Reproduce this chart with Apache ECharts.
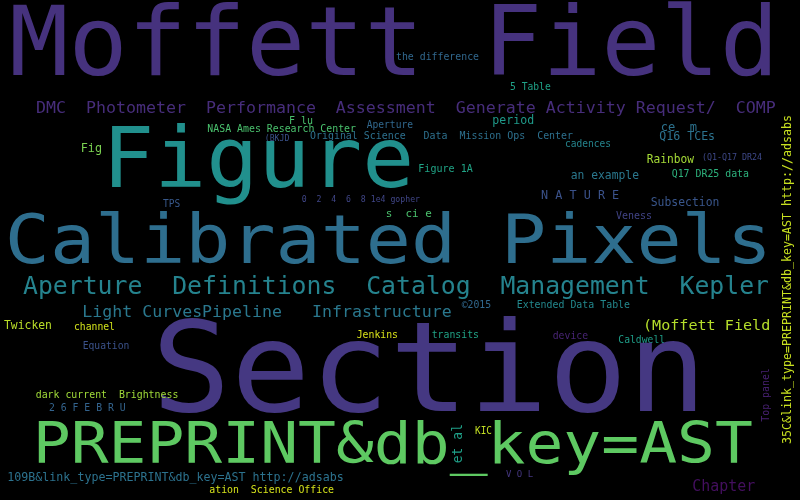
<!DOCTYPE html>
<html>
<head>
<meta charset="utf-8">
<title>Word cloud</title>
<script src="https://cdn.jsdelivr.net/npm/echarts@6/dist/echarts.min.js"></script>
<style>
  html, body { margin: 0; padding: 0; background: #000; }
  #chart { width: 800px; height: 500px; }
</style>
</head>
<body>
<div id="chart"></div>
<script>
  // words of the cloud, their weight (font px) and where the layout put them
  const words = [
    'Moffett Field',
    'DMC  Photometer  Performance  Assessment  Generate Activity Request/  COMP',
    'the difference',
    '5 Table',
    'F lu',
    'NASA Ames Research Center',
    'Aperture',
    'period',
    'ce  m',
    'Q16 TCEs',
    '(BKJD',
    'Original Science   Data  Mission Ops  Center',
    'cadences',
    'Fig',
    'Figure',
    'Figure 1A',
    'Rainbow',
    '(Q1-Q17 DR24',
    'an example',
    'Q17 DR25 data',
    'N A T U R E',
    'Subsection',
    'TPS',
    '0  2  4  6  8 1e4 gopher',
    's  ci e',
    'Veness',
    'Calibrated Pixels',
    'Aperture  Definitions  Catalog  Management  Kepler',
    'Light CurvesPipeline   Infrastructure',
    '©2015',
    'Extended Data Table',
    'Twicken',
    'channel',
    '(Moffett Field',
    'Jenkins',
    'transits',
    'device',
    'Caldwell',
    'Equation',
    'Section',
    'dark current  Brightness',
    '2 6 F E B R U',
    'PREPRINT&db_key=AST',
    'et al',
    'KIC',
    'Top panel',
    '35C&link_type=PREPRINT&db_key=AST http://adsabs',
    '109B&link_type=PREPRINT&db_key=AST http://adsabs',
    'V O L',
    'Chapter',
    'ation  Science Office'
  ];
  const weights = [
    96, 16.6, 10, 10, 10, 10, 10, 11.9, 11.8, 11.8,
    8.5, 10, 10, 12.3, 83.3, 10, 11.9, 8.4, 11.6, 10,
    12, 11.8, 10.4, 8.3, 11.2, 10, 68, 24.9, 16.7, 10.2,
    10, 11.6, 9.9, 14.9, 10, 10, 10.1, 10.1, 10.1, 125,
    10, 9.9, 56.5, 13.4, 10.4, 10.1, 11.7, 11.6, 9.5, 15.4,
    10
  ];
  // ink extent of each word along its reading direction
  const extents = [
    756.7, 738.7, 83, 40.7, 23, 148.7, 46.3, 40.7, 35.3, 54.7,
    23.6, 263, 46, 20, 298.3, 53.4, 48, 59, 68.3, 77.3,
    78, 68.6, 17, 118.3, 45.3, 36, 756.1, 746, 368.4, 29.3,
    113.3, 47, 40, 123.3, 41.3, 47.3, 35.3, 46.7, 46.6, 536,
    142.6, 76.7, 713.4, 38.3, 16.7, 53.4, 328, 334.4, 27.3, 61.7,
    124.7
  ];
  const layoutX = [
    13.3, 37, 396, 510, 290, 207.3, 366.7, 493.3, 661.7, 659.3,
    265.7, 310, 565, 81.7, 111.7, 419.3, 646.7, 703, 570.7, 671.7,
    541, 650.7, 163, 301.7, 386.7, 616, 9.2, 23, 83.3, 461.7,
    516.7, 4, 74, 646, 356.7, 431.7, 552.7, 618.3, 82.7, 160,
    35.7, 49, 38.3, 458.3, 475, 766.7, 788.3, 8.3, 506, 693.3,
    209.3
  ];
  const layoutY = [
    50.1, 108.4, 57.7, 87.7, 121, 129, 125.7, 121.3, 128.3, 136.7,
    139, 136.7, 144, 149.3, 165.2, 169.3, 160, 158.3, 176, 174.7,
    195.7, 202.7, 204.3, 200.3, 214.2, 216.7, 245, 287.3, 312.7, 305.7,
    305.7, 326, 327.7, 325.7, 335, 335, 336.7, 340, 346.7, 378.5,
    395, 408.3, 448.7, 463.3, 431.7, 421.7, 444, 478.3, 475, 486.7,
    490.7
  ];
  const angles = [
    0, 0, 0, 0, 0, 0, 0, 0, 0, 0,
    0, 0, 0, 0, 0, 0, 0, 0, 0, 0,
    0, 0, 0, 0, 0, 0, 0, 0, 0, 0,
    0, 0, 0, 0, 0, 0, 0, 0, 0, 0,
    0, 0, 0, 90, 0, 90, 90, 0, 0, 0,
    0
  ];

  // viridis tones picked per word
  const palette = [
    '#46327e', '#472d7b', '#31688e', '#1fa187', '#4ac16d', '#4ac16d', '#31688e', '#1f9a8a', '#2c728e', '#2c728e',
    '#3b528b', '#2d708e', '#25858e', '#7ad151', '#21908d', '#20a486', '#a5db36', '#3e4989', '#2a788e', '#2db27d',
    '#3b528b', '#39568c', '#38598c', '#404688', '#4ac16d', '#414487', '#2e6e8e', '#25838e', '#2a788e', '#31688e',
    '#23898e', '#bade28', '#d2e21b', '#b5de2b', '#d8e219', '#20a386', '#482475', '#1f9e89', '#3b528b', '#453882',
    '#a0da39', '#33638d', '#5ec962', '#1fa088', '#c2df23', '#482173', '#c8e020', '#2c728e', '#453781', '#440f5f',
    '#d5e21a'
  ];

  const FONT_FAMILY = '"DejaVu Sans Mono", "Liberation Mono", monospace';
  const measureCtx = document.createElement('canvas').getContext('2d');

  // ink box of a word at a given size
  function measureInk(text, size) {
    measureCtx.font = size + 'px ' + FONT_FAMILY;
    const m = measureCtx.measureText(text);
    const left = Number.isFinite(m.actualBoundingBoxLeft) ? m.actualBoundingBoxLeft : 0;
    const right = Number.isFinite(m.actualBoundingBoxRight) ? m.actualBoundingBoxRight : m.width;
    return { left: left, width: Math.max(1, left + right) };
  }

  function renderWord(params, api) {
    const i = api.value(2);
    const pt = api.coord([api.value(0), api.value(1)]);
    const size = weights[i];
    const ink = measureInk(words[i], size);
    return {
      type: 'text',
      silent: true,
      x: pt[0],
      y: pt[1],
      rotation: angles[i] * Math.PI / 180,
      scaleX: extents[i] / ink.width,
      scaleY: 1,
      style: {
        text: words[i],
        x: ink.left,
        y: 0,
        fill: palette[i],
        font: size + 'px ' + FONT_FAMILY,
        fontSize: size,
        fontFamily: FONT_FAMILY,
        align: 'left',
        verticalAlign: 'middle',
        textAlign: 'left',
        textVerticalAlign: 'middle'
      }
    };
  }

  const chart = echarts.init(document.getElementById('chart'), null, { renderer: 'canvas' });
  chart.setOption({
    backgroundColor: '#000000',
    animation: false,
    grid: { left: 0, right: 0, top: 0, bottom: 0 },
    xAxis: { type: 'value', min: 0, max: 800, show: false },
    yAxis: { type: 'value', min: 0, max: 500, inverse: true, show: false },
    series: [
      {
        type: 'custom',
        coordinateSystem: 'cartesian2d',
        renderItem: renderWord,
        clip: false,
        data: words.map((w, i) => [layoutX[i], layoutY[i], i])
      }
    ]
  });
</script>
</body>
</html>
